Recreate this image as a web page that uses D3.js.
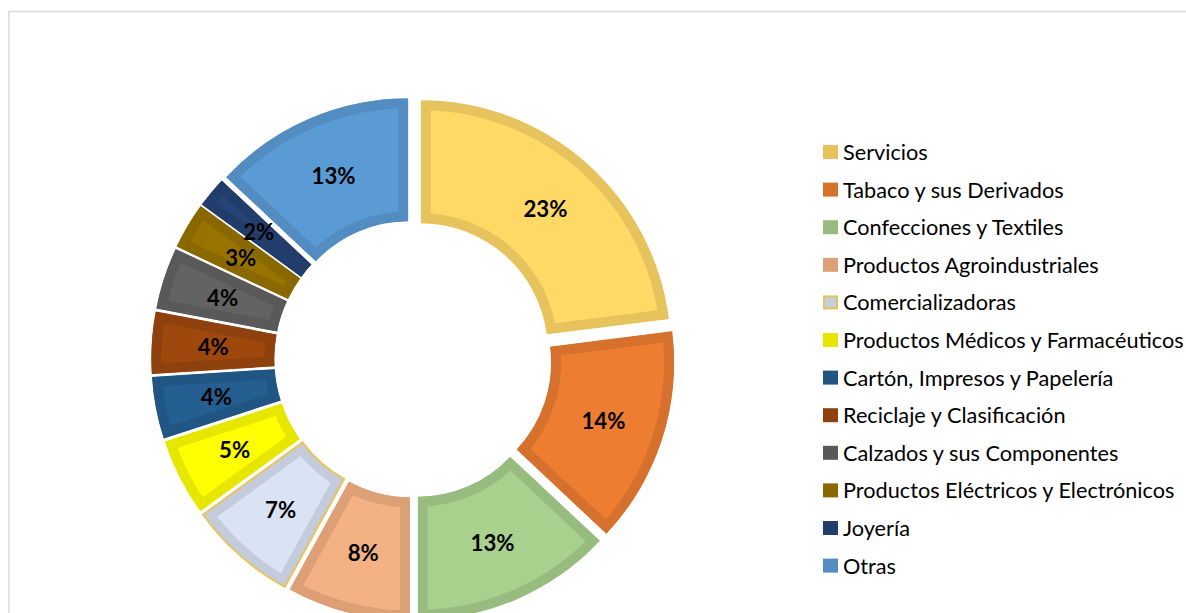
<!DOCTYPE html>
<html><head><meta charset="utf-8">
<script src="https://cdn.jsdelivr.net/npm/d3@7/dist/d3.min.js"></script>
<style>html,body{margin:0;padding:0;background:#fff;overflow:hidden}</style>
</head><body>
<svg id="chart" width="1186" height="613"></svg>
<script>
// ---- data ----
const categories = ["Servicios","Tabaco y sus Derivados","Confecciones y Textiles","Productos Agroindustriales","Comercializadoras","Productos Médicos y Farmacéuticos","Cartón, Impresos y Papelería","Reciclaje y Clasificación","Calzados y sus Componentes","Productos Eléctricos y Electrónicos","Joyería","Otras"];
const values = [23,14,13,8,7,5,4,4,4,3,2,13];
const fillColors = ["#FFD966","#ED7D31","#A9D18E","#F4B183","#DAE3F3","#FFFF00","#255E91","#9E480E","#636363","#997300","#264478","#5B9BD5"];

// ---- layout ----
const W = 1186, H = 613;
const cx = 413, cy = 359, R = 250, r = 127, explode = 11.7, band = 10;
const svg = d3.select("#chart");
const FONT = "Lato, 'Open Sans', sans-serif";

const shade = c => { const o = d3.rgb(c); return d3.rgb(o.r*0.9, o.g*0.9, o.b*0.9).formatHex(); };
const data = categories.map((c,i)=>({name:c, value:values[i], fill:fillColors[i], band:shade(fillColors[i])}));

// chart frame
svg.append("rect").attr("x",9).attr("y",11.5).attr("width",1400).attr("height",1000)
  .attr("fill","none").attr("stroke","#D9D9D9").attr("stroke-width",1.5);

const pie = d3.pie().sort(null).value(d=>d.value).startAngle(0).endAngle(2*Math.PI);
const arc = d3.arc().innerRadius(r).outerRadius(R);
const arcs = pie(data);
const defs = svg.append("defs");
const g = svg.append("g").attr("transform",`translate(${cx},${cy})`);

arcs.forEach((a,i)=>{
  const mid = (a.startAngle+a.endAngle)/2;
  const ox = explode*Math.sin(mid), oy = -explode*Math.cos(mid);
  const pathD = arc(a);
  defs.append("clipPath").attr("id","clip"+i).append("path").attr("d",pathD);
  const sg = g.append("g").attr("transform",`translate(${ox},${oy})`);
  sg.append("path").attr("d",pathD).attr("fill",a.data.fill)
    .attr("stroke",a.data.band).attr("stroke-width",band*2)
    .attr("stroke-linejoin","miter").attr("clip-path",`url(#clip${i})`);
  if (a.data.name === "Comercializadoras") {
    sg.append("path").attr("d",pathD).attr("fill","none").attr("stroke","#E5C35E").attr("stroke-width",2);
  }
});

// labels
const labArc = d3.arc().innerRadius((R+r)/2).outerRadius((R+r)/2);
const labels = [];
arcs.forEach((a,i)=>{
  const mid = (a.startAngle+a.endAngle)/2;
  const ox = explode*Math.sin(mid), oy = -explode*Math.cos(mid);
  const [lx,ly] = labArc.centroid(a);
  labels.push(g.append("text").attr("x",lx+ox).attr("y",ly+oy)
    .attr("text-anchor","middle").attr("dominant-baseline","central")
    .attr("font-family",FONT).attr("font-weight","bold").attr("font-size",20)
    .attr("fill","#000").text(a.data.value+"%"));
});
// fit label font so "23%" is ~44px wide
const w23 = labels[0].node().getComputedTextLength();
const lfs = 20*44/w23;
labels.forEach(t=>t.attr("font-size",lfs));

// legend
const legX = 823, legY0 = 152, legStep = 37.6;
const lg = svg.append("g");
const texts = [];
data.forEach((d,i)=>{
  const y = legY0 + i*legStep;
  if (d.name === "Comercializadoras") {
    lg.append("rect").attr("x",legX+1).attr("y",y-6).attr("width",13).attr("height",12)
      .attr("fill","#C6CEDC").attr("stroke","#E5C35E").attr("stroke-width",2);
  } else {
    lg.append("rect").attr("x",legX).attr("y",y-7).attr("width",15).attr("height",14).attr("fill",d.band);
  }
  texts.push(lg.append("text").attr("x",legX+20).attr("y",y).attr("dominant-baseline","central")
    .attr("font-family",FONT).attr("font-size",20).attr("fill","#000").text(d.name));
});
const wLong = texts[9].node().getComputedTextLength();
const wMed = texts[5].node().getComputedTextLength();
const fs = Math.min(20*337/wLong, 20*(W-2-(legX+20))/wMed);
texts.forEach(t=>t.attr("font-size",fs));
</script>
</body></html>
